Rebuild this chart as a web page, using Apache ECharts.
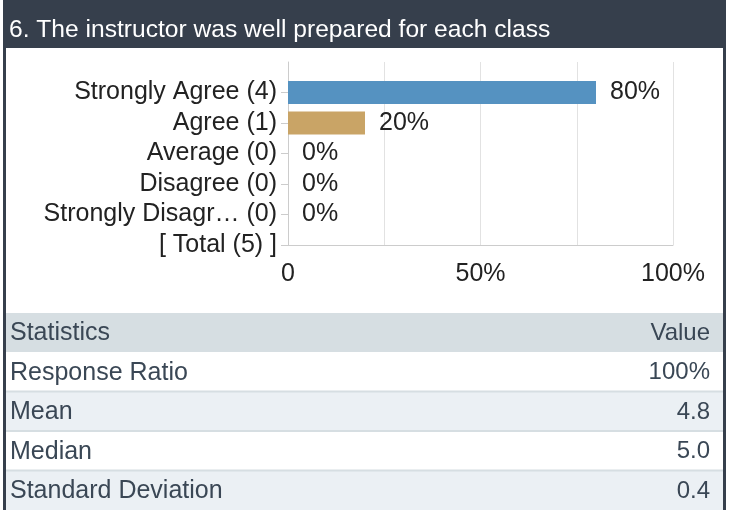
<!DOCTYPE html>
<html>
<head>
<meta charset="utf-8">
<script src="https://cdn.jsdelivr.net/npm/echarts@6/dist/echarts.min.js"></script>
<style>
  html, body { margin: 0; padding: 0; background: #fff; }
  #chart { width: 729px; height: 510px; }
</style>
</head>
<body>
<div id="chart"></div>
<script>
// ---- data ----
const titleText = '6. The instructor was well prepared for each class';
const categories = ['Strongly Agree (4)', 'Agree (1)', 'Average (0)', 'Disagree (0)', 'Strongly Disagr\u2026 (0)', '[ Total (5) ]'];
const percentValues = [80, 20, 0, 0, 0, null];
const barColors = ['#5592c1', '#c9a466', '#5592c1', '#5592c1', '#5592c1', '#5592c1'];
const xTickValues = [0, 50, 100];
const xTickLabels = ['0', '50%', '100%'];
const tableHeader = ['Statistics', 'Value'];
const statLabels = ['Response Ratio', 'Mean', 'Median', 'Standard Deviation'];
const statValues = ['100%', '4.8', '5.0', '0.4'];

// ---- build ----
const dark = '#363f4c';
const chartFont = '"Liberation Sans", Arial, sans-serif';
const tableFont = '"Liberation Sans", Arial, sans-serif';
const tableColor = '#3a4755';

const yCats = [''].concat(categories);
const barData = [null].concat(percentValues).map((v, i) => (
  v === null ? { value: null } : { value: v, itemStyle: { color: barColors[i - 1] } }
));

const graphics = [];
// header
graphics.push({ type: 'rect', shape: { x: 3, y: 0, width: 723, height: 48 }, style: { fill: dark }, z: 10 });
graphics.push({ type: 'text', style: { text: titleText, x: 9, y: 30, fill: '#ffffff', font: '24.6px ' + chartFont, textVerticalAlign: 'middle' }, z: 11 });
// side borders
graphics.push({ type: 'rect', shape: { x: 3, y: 0, width: 3, height: 510 }, style: { fill: dark }, z: 10 });
graphics.push({ type: 'rect', shape: { x: 723, y: 0, width: 3, height: 510 }, style: { fill: dark }, z: 10 });

// table
const tableTop = 313, headerH = 39, rowH = 39.5, tableL = 6, tableR = 723;
const tfLeft = '25px ' + tableFont;
const tfRight = '24px ' + tableFont;
graphics.push({ type: 'rect', shape: { x: tableL, y: tableTop, width: tableR - tableL, height: headerH }, style: { fill: '#d6dee2' }, z: 5 });
graphics.push({ type: 'text', style: { text: tableHeader[0], x: 10, y: tableTop + headerH / 2 + 1, fill: tableColor, font: tfLeft, textVerticalAlign: 'middle' }, z: 6 });
graphics.push({ type: 'text', style: { text: tableHeader[1], x: 710, y: tableTop + headerH / 2 + 1, fill: tableColor, font: tfRight, textAlign: 'right', textVerticalAlign: 'middle' }, z: 6 });
statLabels.forEach((lab, i) => {
  const y0 = tableTop + headerH + i * rowH;
  graphics.push({ type: 'rect', shape: { x: tableL, y: y0, width: tableR - tableL, height: rowH }, style: { fill: i % 2 === 1 ? '#ebf0f4' : '#ffffff' }, z: 5 });
  if (i > 0) graphics.push({ type: 'rect', shape: { x: tableL, y: y0 - 1, width: tableR - tableL, height: 2 }, style: { fill: '#d6dee2' }, z: 5 });
  graphics.push({ type: 'text', style: { text: lab, x: 10, y: y0 + rowH / 2 + 1, fill: tableColor, font: tfLeft, textVerticalAlign: 'middle' }, z: 6 });
  graphics.push({ type: 'text', style: { text: statValues[i], x: 710, y: y0 + rowH / 2 + 1, fill: tableColor, font: tfRight, textAlign: 'right', textVerticalAlign: 'middle' }, z: 6 });
});

const chart = echarts.init(document.getElementById('chart'), null, { renderer: 'canvas' });
chart.setOption({
  backgroundColor: '#ffffff',
  animation: false,
  textStyle: { fontFamily: chartFont },
  grid: { left: 288, right: 56, top: 62, bottom: 265, containLabel: false },
  xAxis: {
    type: 'value', min: 0, max: 100, interval: 25,
    axisLine: { show: true, lineStyle: { color: '#cccccc', width: 1 } },
    axisTick: { show: false },
    splitLine: { show: true, lineStyle: { color: '#e2e2e2', width: 1 } },
    axisLabel: {
      margin: 17, fontSize: 25, color: '#222222', fontFamily: chartFont,
      formatter: v => { const k = xTickValues.indexOf(v); return k >= 0 ? xTickLabels[k] : ''; }
    }
  },
  yAxis: {
    type: 'category', inverse: true, boundaryGap: false, data: yCats,
    axisLine: { show: true, lineStyle: { color: '#cccccc', width: 1 } },
    axisTick: { show: true, length: 7, lineStyle: { color: '#cccccc' }, interval: (i) => i !== 0 },
    splitLine: { show: false },
    axisLabel: { margin: 11, fontSize: 25, color: '#222222', fontFamily: chartFont, interval: 0 }
  },
  series: [{
    type: 'bar', data: barData, barWidth: 23,
    label: { show: true, position: 'right', distance: 14, fontSize: 25, color: '#222222', fontFamily: chartFont, formatter: '{c}%' }
  }],
  graphic: { elements: graphics }
});
</script>
</body>
</html>
